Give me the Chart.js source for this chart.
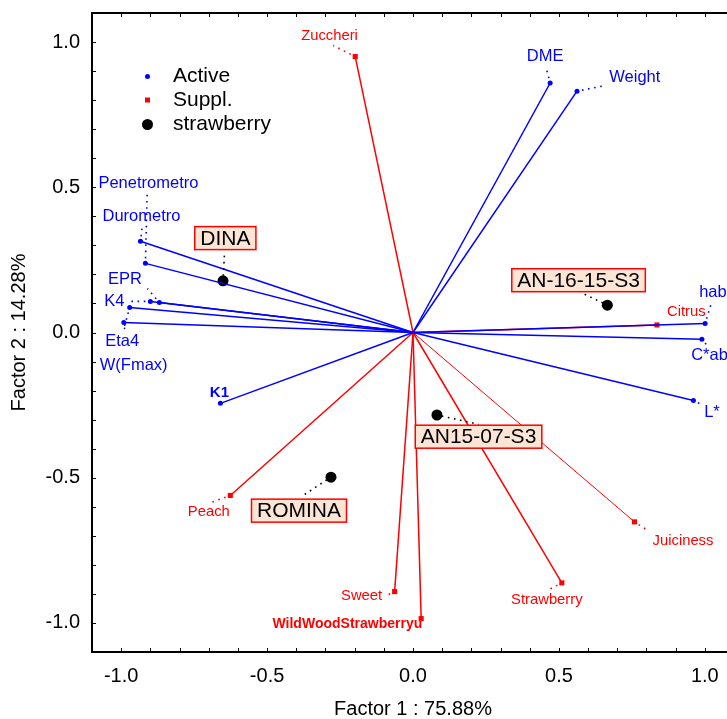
<!DOCTYPE html>
<html lang="en">
<head>
<meta charset="UTF-8">
<title>Factor plot</title>
<script src="https://cdn.jsdelivr.net/npm/chart.js"></script>
<style>
  html, body { margin: 0; padding: 0; background: #fff; overflow: hidden; }
  #wrap { width: 760px; height: 719px; }
</style>
</head>
<body>
<div id="wrap"><canvas id="grafico" width="760" height="719"></canvas></div>
<script>
// active variables (blue)
const activeNames = ['Penetrometro', 'Durometro', 'EPR', 'K4', 'W(Fmax)', 'Eta4', 'K1', 'DME', 'Weight', 'hab', 'C*ab', 'L*'];
const activeF1 = [-0.917, -0.934, -0.869, -0.900, -0.971, -0.991, -0.660, 0.470, 0.562, 1.001, 0.990, 0.961];
const activeF2 = [0.238, 0.314, 0.103, 0.107, 0.086, 0.034, -0.244, 0.859, 0.831, 0.031, -0.023, -0.234];

// supplementary variables (red)
const supplNames = ['Zuccheri', 'Citrus', 'Peach', 'Sweet', 'WildWoodStrawberryu', 'Strawberry', 'Juiciness'];
const supplF1 = [-0.198, 0.836, -0.626, -0.063, 0.028, 0.510, 0.759];
const supplF2 = [0.950, 0.026, -0.561, -0.892, -0.985, -0.862, -0.652];

// strawberry cases (black)
const caseNames = ['DINA', 'AN-16-15-S3', 'AN15-07-S3', 'ROMINA'];
const caseF1 = [-0.651, 0.666, 0.082, -0.281];
const caseF2 = [0.178, 0.094, -0.284, -0.498];

const axisTicks = [-1, -0.5, 0, 0.5, 1];

// where each label goes, in pixels from its point: [text dx, text dy, leader end dx, leader end dy]
const labelPos = {
  'Penetrometro': [3, -80, 1.7, -69],
  'Durometro': [1, -25, 1.7, -14],
  'EPR': [-34.5, -23, -12, -14],
  'K4': [-36, 0, -22, 0],
  'W(Fmax)': [4, 58.4, -6, 22],
  'Eta4': [-1.6, 18.4, 1, 8],
  'K1': [-1, -11, null, null],
  'DME': [-5, -27, -4, -15],
  'Weight': [57.8, -14, 26.6, -5.3],
  'hab': [7.8, -31, 6.5, -21],
  'C*ab': [7.6, 16.7, 5, 6],
  'L*': [18.5, 12, 8, 4],
  'Zuccheri': [-25.7, -21, -22, -11],
  'Citrus': [29.3, -13, null, null],
  'Peach': [-21.5, 16.7, -22, 8],
  'Sweet': [-33, 4.7, -8, 4],
  'WildWoodStrawberryu': [-73.8, 6, null, null],
  'Strawberry': [-15, 16.7, -15, 7.7],
  'Juiciness': [48.5, 18.7, 14, 9],
  'DINA': [2.3, -42.7, 1.5, -28],
  'AN-16-15-S3': [-28.8, -25, -27, -13],
  'AN15-07-S3': [41.6, 21.7, 41.6, 9.3],
  'ROMINA': [-32, 33.5, -29, 19]
};
const boldLabels = ['K1', 'WildWoodStrawberryu'];
const thinLines = ['Juiciness'];

const fonte = "'Liberation Sans', Arial, sans-serif";
const azul = '#0000ff';
const vermelho = '#ff0000';

const datasets = [];
activeNames.forEach((nome, i) => {
  datasets.push({
    label: nome,
    data: [{ x: 0, y: 0 }, { x: activeF1[i], y: activeF2[i] }],
    showLine: true,
    borderColor: azul,
    backgroundColor: azul,
    borderWidth: 1.5,
    pointStyle: 'circle',
    pointRadius: [0, 2.5],
    pointBorderWidth: 0
  });
});
supplNames.forEach((nome, i) => {
  datasets.push({
    label: nome,
    data: [{ x: 0, y: 0 }, { x: supplF1[i], y: supplF2[i] }],
    showLine: true,
    borderColor: vermelho,
    backgroundColor: vermelho,
    borderWidth: thinLines.includes(nome) ? 1 : 1.5,
    pointStyle: 'rect',
    pointRadius: [0, 3.6],
    pointBorderWidth: 0
  });
});
datasets.push({
  label: 'strawberry',
  data: caseNames.map((n, i) => ({ x: caseF1[i], y: caseF2[i] })),
  showLine: false,
  backgroundColor: '#000',
  borderColor: '#000',
  pointStyle: 'circle',
  pointRadius: 5.5,
  pointBorderWidth: 0
});

function pontilhado(ctx, x0, y0, x1, y1, cor) {
  const d = Math.hypot(x1 - x0, y1 - y0);
  if (d < 5) return;
  const ux = (x1 - x0) / d, uy = (y1 - y0) / d;
  ctx.save();
  ctx.strokeStyle = cor;
  ctx.lineWidth = 1.6;
  ctx.setLineDash([1.6, 4.6]);
  ctx.beginPath();
  ctx.moveTo(x0 + ux * 5, y0 + uy * 5);
  ctx.lineTo(x1, y1);
  ctx.stroke();
  ctx.restore();
}

// frame with inward ticks every 0.1
const moldura = {
  id: 'moldura',
  beforeDatasetsDraw(chart) {
    const { ctx, chartArea: a, scales: { x, y } } = chart;
    ctx.save();
    ctx.strokeStyle = '#000';
    ctx.lineWidth = 1;
    ctx.beginPath();
    for (let k = -10; k <= 10; k++) {
      const px = Math.round(x.getPixelForValue(k / 10)) + 0.5;
      const py = Math.round(y.getPixelForValue(k / 10)) + 0.5;
      ctx.moveTo(px, a.bottom); ctx.lineTo(px, a.bottom - 4);
      ctx.moveTo(px, a.top); ctx.lineTo(px, a.top + 4);
      ctx.moveTo(a.left, py); ctx.lineTo(a.left + 4, py);
      ctx.moveTo(a.right, py); ctx.lineTo(a.right - 4, py);
    }
    ctx.stroke();
    ctx.lineWidth = 2;
    ctx.strokeRect(a.left, a.top, a.right - a.left, a.bottom - a.top);
    ctx.restore();
  }
};

// labels, leaders, boxes and legend
const rotulos = {
  id: 'rotulos',
  afterDatasetsDraw(chart) {
    const { ctx, chartArea: a, scales: { x, y } } = chart;
    ctx.save();
    ctx.textAlign = 'center';
    ctx.textBaseline = 'middle';

    const variavel = (nome, f1, f2, cor, tam) => {
      const px = x.getPixelForValue(f1), py = y.getPixelForValue(f2);
      const p = labelPos[nome];
      if (p[2] !== null) pontilhado(ctx, px, py, px + p[2], py + p[3], cor);
      ctx.fillStyle = cor;
      ctx.font = (boldLabels.includes(nome) ? 'bold ' : '') + tam + 'px ' + fonte;
      ctx.fillText(nome, px + p[0], py + p[1]);
    };
    activeNames.forEach((n, i) => variavel(n, activeF1[i], activeF2[i], azul, boldLabels.includes(n) ? 15 : 16.5));
    supplNames.forEach((n, i) => variavel(n, supplF1[i], supplF2[i], vermelho, boldLabels.includes(n) ? 14 : 14.8));

    caseNames.forEach((n, i) => {
      const px = x.getPixelForValue(caseF1[i]), py = y.getPixelForValue(caseF2[i]);
      const p = labelPos[n];
      pontilhado(ctx, px, py, px + p[2], py + p[3], '#000');
      ctx.font = '21px ' + fonte;
      const w = ctx.measureText(n).width + 11, h = 23;
      const cx = px + p[0], cy = py + p[1];
      ctx.fillStyle = '#fde5d5';
      ctx.fillRect(cx - w / 2, cy - h / 2, w, h);
      ctx.strokeStyle = vermelho;
      ctx.lineWidth = 1.5;
      ctx.strokeRect(cx - w / 2, cy - h / 2, w, h);
      ctx.fillStyle = '#000';
      ctx.fillText(n, cx, cy + 1);
    });

    // legend
    const lx = a.left + 55.5, tx = a.left + 81;
    ctx.textAlign = 'left';
    ctx.font = '21px ' + fonte;
    ctx.fillStyle = azul;
    ctx.beginPath(); ctx.arc(lx, a.top + 63.5, 2.5, 0, Math.PI * 2); ctx.fill();
    ctx.fillStyle = vermelho;
    ctx.fillRect(lx - 2.5, a.top + 84.5, 5, 5);
    ctx.fillStyle = '#000';
    ctx.beginPath(); ctx.arc(lx, a.top + 111.5, 5.5, 0, Math.PI * 2); ctx.fill();
    ctx.fillText('Active', tx, a.top + 63.5);
    ctx.fillText('Suppl.', tx, a.top + 87);
    ctx.fillText('strawberry', tx, a.top + 111.5);
    ctx.restore();
  }
};

const semMargem = s => { s.paddingTop = 0; s.paddingBottom = 0; s.paddingLeft = 0; s.paddingRight = 0; };

const eixo = (titulo, extra) => Object.assign({
  type: 'linear',
  min: -1.1,
  max: 1.1,
  afterBuildTicks: s => { s.ticks = axisTicks.map(v => ({ value: v })); },
  grid: { display: false, drawTicks: false },
  border: { display: false },
  ticks: {
    padding: 12,
    color: '#000',
    font: { family: fonte, size: 20 },
    callback: v => Number(v).toFixed(1)
  },
  title: {
    display: true,
    text: titulo,
    color: '#000',
    font: { family: fonte, size: 20, lineHeight: 1 },
    padding: { top: 0, bottom: 0 }
  }
}, extra);

const grafico = new Chart(document.getElementById('grafico').getContext('2d'), {
  type: 'scatter',
  data: { datasets: datasets },
  options: {
    responsive: false,
    animation: false,
    events: [],
    layout: { padding: { top: 13, right: 26, bottom: 0, left: 0 } },
    plugins: { legend: { display: false }, tooltip: { enabled: false } },
    scales: {
      x: eixo('Factor 1 : 75.88%', { position: 'bottom', afterFit: s => { s.height = 67; semMargem(s); } }),
      y: eixo('Factor 2 : 14.28%', { position: 'left', afterFit: s => { s.width = 92; semMargem(s); } })
    }
  },
  plugins: [moldura, rotulos]
});
grafico.options.scales.y.title.padding = { top: 9.5, bottom: 0 };
grafico.update();
</script>
</body>
</html>
